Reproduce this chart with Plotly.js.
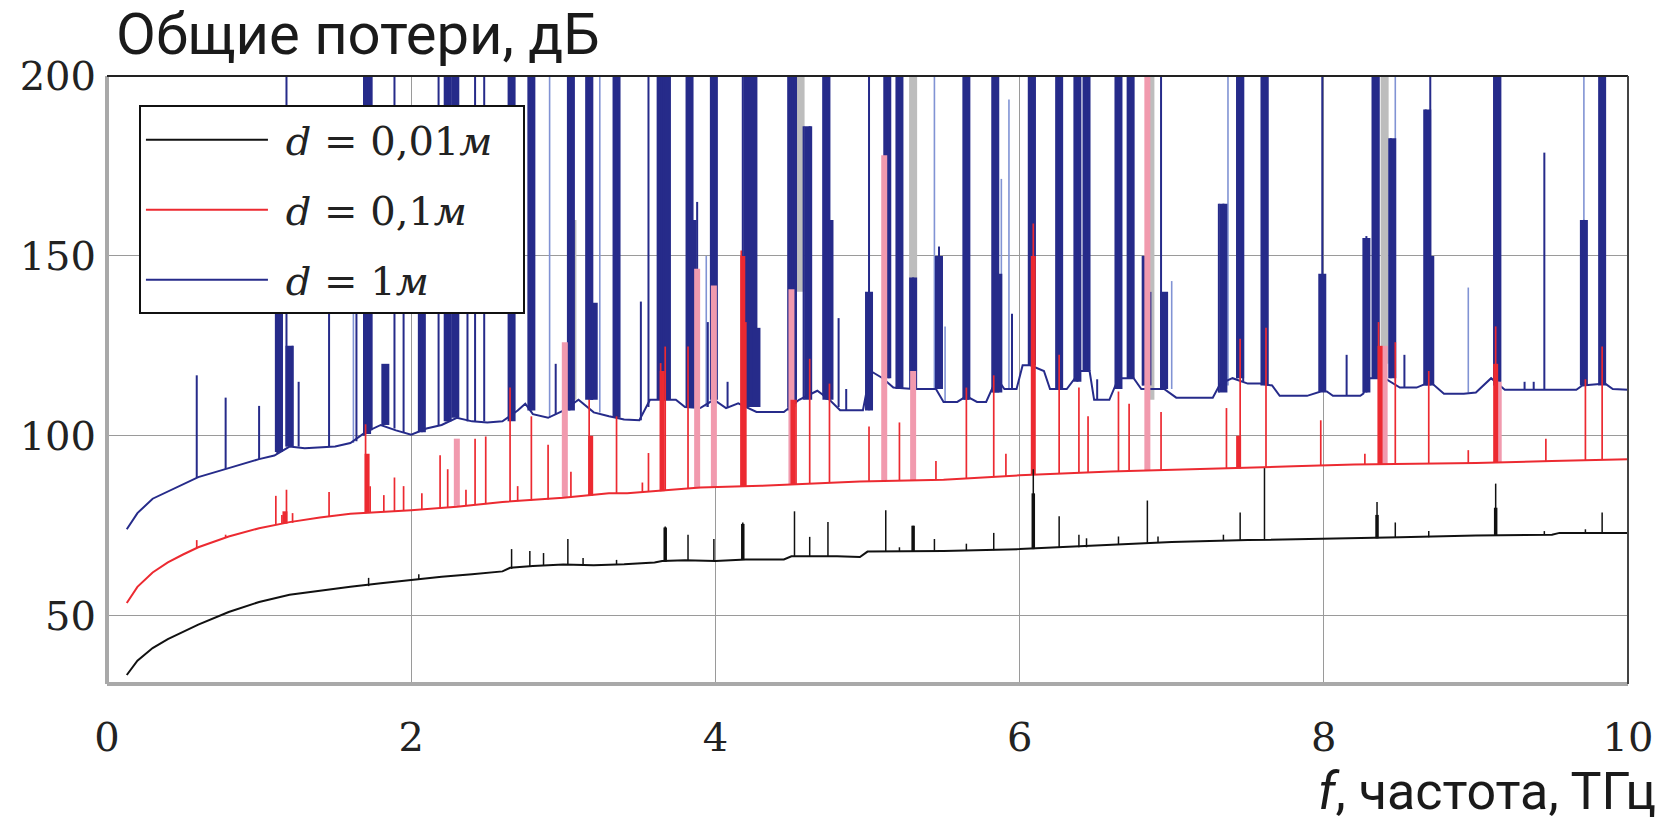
<!DOCTYPE html>
<html><head><meta charset="utf-8">
<script src="https://cdn.plot.ly/plotly-3.0.1.min.js"></script>
<style>html,body{margin:0;padding:0;background:#fff}#chart{width:1676px;height:829px}</style>
</head><body><div id="chart"></div>
<script>
// ---------- DATA ----------
// x: f, THz ; y: total losses, dB
const blackFreq = [0.13,0.2,0.3,0.4,0.5,0.6,0.8,1.0,1.2,1.4,1.6,1.8,2.0,2.2,2.4,2.6,2.65,2.8,3.0,3.2,3.4,3.6,3.65,3.8,4.0,4.2,4.45,4.5,4.8,4.95,5.0,5.5,6.0,6.5,7.0,7.5,8.0,8.5,9.0,9.5,9.55,10.0];
const blackLoss = [33.5,37.5,41,43.5,45.5,47.5,51,53.8,55.8,57,58,59,60,60.8,61.5,62.3,63.3,63.8,64.2,64,64.3,64.8,65.2,65.4,65.2,65.6,65.6,66.5,66.5,66.3,67.8,68,68.5,69.5,70.5,71,71.3,71.8,72.3,72.5,73,73];
// spikes: [f, base, peak]
const blackSpikes = [[1.72,58.2,60.5],[2.05,60.2,61.5],[2.66,63,68.5],[2.78,63.8,68],[2.87,64,67.4],[3.03,64.2,71.3],[3.13,64,66],[3.35,64.2,65.5],[3.67,65,74.8],[3.82,65.4,72.5],[3.99,65.2,71.3],[4.18,65.6,75.9],[4.52,66.5,79],[4.62,66.5,71.9],[4.74,66.5,76],[5.12,67.8,79.3],[5.21,67.8,69],[5.30,67.8,75],[5.44,68,71.3],[5.65,68,70],[5.83,68.2,73],[6.09,68.5,90.7],[6.26,68.8,77.6],[6.39,69,72.5],[6.44,69,71.5],[6.65,69.8,72],[6.84,70.2,82],[6.91,70.2,72],[7.34,70.8,72.5],[7.45,71,78.7],[7.61,71,91],[8.35,71.5,81.6],[8.47,71.6,75.9],[8.69,71.8,73.5],[9.13,72.3,86.7],[9.45,72.5,73.5],[9.72,73,74],[9.83,73,78.7]];
const blackBands = [[3.67,65,74.5],[4.18,65.6,75.5],[5.30,67.8,75],[6.09,68.5,84],[8.35,71.5,78],[9.13,72.3,80]];

const redFreq = [0.13,0.2,0.3,0.4,0.5,0.6,0.8,1.0,1.2,1.4,1.6,1.8,2.0,2.3,2.6,3.0,3.3,3.42,3.6,3.9,4.3,4.6,4.95,5.5,6.0,6.6,7.2,7.8,8.2,8.6,9.0,9.5,10.0];
const redLoss = [53.5,58,62,64.8,67,69,72,74.3,76,77.3,78.3,78.8,79.3,80.3,81.6,82.8,84,84,84.6,85.6,86.1,86.7,87.3,87.8,89,90.1,90.7,91.5,92,92.2,92.4,93,93.5];
const redSpikes = [[0.59,68.8,71],[0.78,71.7,72.5],[1.11,75.3,83.3],[1.15,75.5,78],[1.18,75.7,85],[1.22,75.8,78.5],[1.46,77.5,84.4],[1.70,78.5,103.2],[1.73,78.6,86],[1.82,78.8,83.5],[1.89,79,88.4],[1.95,79.1,86],[2.07,79.5,84],[2.19,79.9,94.6],[2.24,80.1,90.7],[2.36,80.5,85],[2.42,80.8,99.2],[2.49,81,99.8],[2.65,81.7,113.4],[2.70,81.8,86],[2.79,82,105.4],[2.90,82.3,97.5],[3.05,82.8,90],[3.17,83.3,110],[3.35,84,105.4],[3.52,84.3,87],[3.56,84.4,95.2],[3.64,84.6,120.2],[3.67,84.7,124.8],[3.82,85.2,124.8],[4.17,86,151.5],[4.20,86,131.6],[4.53,86.6,110],[4.62,86.8,121.4],[4.75,87,114.5],[5.01,87.4,102.6],[5.21,87.6,103.7],[5.45,87.8,93],[5.65,88,113.4],[5.83,88.5,116.8],[5.91,88.7,95],[6.09,89.1,159],[6.26,89.4,122.5],[6.39,89.7,113.4],[6.45,89.8,105.4],[6.65,90.1,112.3],[6.72,90.2,108.9],[6.93,90.5,106.6],[7.36,90.8,107.7],[7.45,90.9,127],[7.62,91.1,130],[7.98,91.7,104.3],[8.27,92,95],[8.36,92.1,131.6],[8.47,92.2,126],[8.69,92.3,118],[8.95,92.4,96],[9.13,92.5,130.4],[9.46,93,99.2],[9.72,93.2,115.7],[9.83,93.3,124.8]];
const redBands = [[1.17,75.6,79],[1.71,78.5,95],[3.18,83.3,100],[3.65,84.6,118],[4.18,86,150],[4.51,86.6,110],[6.09,89.1,150],[7.44,90.9,100],[8.37,92.1,125],[9.13,92.5,120]];
const pinkBands = [[2.30,80.3,99.2],[3.01,82.7,126],[3.88,85.4,146.4],[3.99,85.7,141.8],[4.50,86.6,140.7],[5.11,87.5,178],[5.30,87.7,118],[6.84,90.4,200],[8.40,92.1,125],[9.15,92.5,115]];

const greyBands = [[3.06,110,160],[4.56,140,200],[5.30,118,200],[6.86,110,200],[8.40,120,200]];

const blueFreq = [0.13,0.2,0.3,0.4,0.5,0.6,0.8,1.0,1.1,1.2,1.3,1.5,1.6,1.7,1.8,1.9,2.0,2.1,2.2,2.3,2.4,2.5,2.6,2.7,2.75,2.8,2.9,3.0,3.1,3.2,3.3,3.4,3.5,3.57,3.65,3.74,3.8,3.9,3.99,4.07,4.15,4.27,4.45,4.55,4.67,4.75,4.82,4.97,5.02,5.1,5.17,5.3,5.45,5.5,5.59,5.65,5.72,5.78,5.85,5.9,5.98,6.02,6.07,6.16,6.2,6.31,6.4,6.46,6.49,6.59,6.65,6.75,6.8,6.95,7.03,7.27,7.32,7.4,7.5,7.58,7.66,7.71,7.89,7.98,8.02,8.06,8.24,8.26,8.3,8.4,8.5,8.61,8.7,8.79,8.92,9.0,9.1,9.19,9.41,9.49,9.66,9.7,9.85,9.9,10.0];
const blueLoss = [74,78.5,82.5,84.5,86.5,88.5,91,93.5,94.5,97,96.5,97,98,101,103,101.5,100.3,102,103,105,104,103.7,104,107,108.9,106,105,107,110,106.5,105.4,104.5,104.3,110,110,110,108,107.7,110,107.7,109,106.6,106.6,110,112.5,110,107.1,107.1,118,116,113.4,113,113,109.4,109.4,111,109.4,109.4,116,113,113,119.6,119.6,118,113,113,118,118,110,110,116,116,113,113,110.6,110.6,114.5,116,114.5,114.5,114,111.1,111.1,112.3,112.3,111.1,111.1,111.7,116,116,113.4,113.4,115,111.7,111.7,112,116,112.8,112.8,112.8,112.8,114,114.5,113,112.8];
const blueSpikes = [[0.59,88.3,116.8],[0.78,90.8,110.6],[1.00,93.5,108.3],[1.12,95,160],[1.15,96,160],[1.18,97,200],[1.22,97,125],[1.26,97,115],[1.46,97,170],[1.64,98.5,170],[1.69,100,200],[1.72,101,200],[1.74,101.5,200],[1.82,103,119.6],[1.89,102,200],[1.95,101,170],[2.07,101,170],[2.18,103,200],[2.23,104,200],[2.25,104,200],[2.37,104,170],[2.42,104,200],[2.48,104,200],[2.65,104,200],[2.67,107,170],[2.79,107,200],[2.95,106,120],[3.04,107,200],[3.06,108,200],[3.17,110,200],[3.19,110,200],[3.35,105,200],[3.51,104.3,137.3],[3.56,108,200],[3.63,110,200],[3.66,110,200],[3.70,110,200],[3.82,108,200],[3.88,108,165],[3.95,108,131.6],[3.98,110,200],[4.00,110,200],[4.08,107.7,115],[4.18,108,200],[4.21,108,200],[4.25,108,200],[4.48,107,200],[4.51,108,200],[4.53,109,200],[4.58,110,186],[4.62,111,186],[4.71,111,200],[4.74,110,200],[4.81,108,132.7],[4.86,107,113],[5.01,107.1,200],[5.12,116,200],[5.14,116,200],[5.21,113.4,200],[5.22,113.4,200],[5.30,113,144],[5.47,113,152.6],[5.64,110,200],[5.66,110,200],[5.83,112,200],[5.95,113,133.9],[6.07,119.6,200],[6.10,119.6,200],[6.26,113,200],[6.38,115,200],[6.44,118,200],[6.45,118,200],[6.51,110,115.7],[6.65,113,200],[6.72,116,200],[6.74,116,200],[6.81,114,150],[6.84,114,200],[6.86,114,140],[6.93,113,200],[7.31,112,164.5],[7.34,113,164.5],[7.43,116,200],[7.45,116,200],[7.47,115,200],[7.61,114.5,200],[7.63,114,200],[7.99,112.3,200],[8.15,111.1,122.5],[8.28,112,155.5],[8.33,116,200],[8.36,116,200],[8.44,116,182.7],[8.53,113.4,122.5],[8.67,114,190.7],[8.70,115,200],[9.12,114,200],[9.14,115,200],[9.16,115,200],[9.32,112.8,115],[9.38,112.8,115],[9.45,112.8,178.7],[9.71,114,160],[9.83,114.5,200]];
const lightBlueSpikes = [[1.62,98,170],[2.30,105,200],[2.91,105,200],[3.24,106.5,200],[3.94,108,150],[5.44,113,200],[5.51,109.4,130.4],[5.88,114,171.4],[5.93,113,193.5],[7.00,113,143],[7.37,114,200],[8.47,115,200],[8.95,112,141.2],[9.71,114,200]];
const blueBands = [[1.13,95.5,160],[1.20,97,125],[1.71,100.5,200],[1.83,103,120],[2.07,101,170],[2.24,104,200],[2.29,105,200],[2.66,104,200],[2.79,107,200],[3.05,107,200],[3.17,110,200],[3.20,110,137],[3.35,105,200],[3.64,110,200],[3.68,110,200],[3.83,108,200],[3.85,108,160],[3.99,110,200],[4.21,108,200],[4.25,108,200],[4.27,108,130],[4.50,108,200],[4.61,110,186],[4.73,110,200],[4.75,110,160],[5.01,107,140],[5.13,116,200],[5.21,113,200],[5.30,113,144],[5.47,113,150],[5.65,110,200],[5.84,112,200],[5.86,112,145],[6.08,119.6,200],[6.26,113,200],[6.38,115,200],[6.44,118,200],[6.65,113,200],[6.73,116,200],[6.83,114,150],[6.95,113,140],[7.34,112,164.5],[7.45,116,200],[7.61,114,200],[7.99,112.3,145],[8.28,112,155],[8.34,116,200],[8.45,116,182.7],[8.68,114,190.7],[8.70,114,150],[9.14,115,200],[9.71,114,160],[9.83,114,200]];

const xTickVals = [0,2,4,6,8,10];
const yTickVals = [50,100,150,200];
const seriesNames = ['&nbsp;<i>d</i> = 0,01<i>м</i>&nbsp;&nbsp;','&nbsp;<i>d</i> = 0,1<i>м</i>','&nbsp;<i>d</i> = 1<i>м</i>'];

// ---------- BUILD ----------
const BLUE='#262B8A', LIGHTBLUE='#8193d4', RED='#EC2A31', PINK='#F19AAE', GREY='#bdbdbd', BLACK='#111111';
function seg(spikes){const x=[],y=[];spikes.forEach(s=>{x.push(s[0],s[0],null);y.push(s[1],s[2],null);});return {x,y};}
function extra(spikes,color,w,grp,rank){const s=seg(spikes);return {x:s.x,y:s.y,type:'scatter',mode:'lines',line:{color:color,width:w},showlegend:false,hoverinfo:'skip',legendgroup:grp,legendrank:rank,connectgaps:false};}
function main(x,y,color,name,grp,rank){return {x:x,y:y,type:'scatter',mode:'lines',line:{color:color,width:2},name:name,legendgroup:grp,legendrank:rank};}

const traces = [
  extra(greyBands,GREY,8,'c',3),
  extra(lightBlueSpikes,LIGHTBLUE,1.6,'c',3), extra(blueBands,BLUE,8,'c',3), extra(blueSpikes,BLUE,2,'c',3), main(blueFreq,blueLoss,BLUE,seriesNames[2],'c',3),
  extra(pinkBands,PINK,6,'b',2), extra(redBands,RED,5,'b',2), extra(redSpikes,RED,1.7,'b',2), main(redFreq,redLoss,RED,seriesNames[1],'b',2),
  extra(blackBands,BLACK,3.5,'a',1), extra(blackSpikes,BLACK,1.5,'a',1), main(blackFreq,blackLoss,BLACK,seriesNames[0],'a',1)
];

const layout = {
  width:1676, height:829,
  margin:{l:107,r:48,t:76,b:145},
  paper_bgcolor:'#fff', plot_bgcolor:'#fff',
  showlegend:true,
  title:{text:'Общие потери, дБ', x:116/1676, xref:'container', xanchor:'left', y:1-34/829, yanchor:'middle',
         font:{family:'Roboto, Noto Sans, sans-serif', size:58, color:'#1a1a1a'}},
  xaxis:{range:[0,10], tickvals:xTickVals, ticktext:xTickVals.map(String), showgrid:true, gridcolor:'#9a9a9a', gridwidth:1.2,
         zeroline:false, showline:false, ticks:'', ticklabelstandoff:26,
         tickfont:{family:'DejaVu Serif, serif', size:40, color:'#222'}},
  yaxis:{range:[31,200], tickvals:yTickVals, ticktext:yTickVals.map(String), showgrid:true, gridcolor:'#9a9a9a', gridwidth:1.2,
         zeroline:false, showline:false, ticks:'', ticklabelstandoff:10,
         tickfont:{family:'DejaVu Serif, serif', size:40, color:'#222'}},
  legend:{x:0.021, y:0.952, xanchor:'left', yanchor:'top', bgcolor:'#fff', bordercolor:'#111', borderwidth:2,
          font:{family:'DejaVu Serif, serif', size:40, color:'#222'}, traceorder:'grouped', tracegroupgap:15, itemwidth:122},
  annotations:[{text:'<i>f</i>, частота, ТГц', xref:'paper', yref:'paper', x:(1658-107)/1521, y:(684-791)/608, xanchor:'right', yanchor:'middle',
                showarrow:false, font:{family:'Roboto, Noto Sans, sans-serif', size:52, color:'#1a1a1a'}}],
  shapes:[
    {type:'line',xref:'paper',yref:'paper',x0:0,x1:0,y0:0,y1:1,line:{color:'#a9a9a9',width:4},layer:'above'},
    {type:'line',xref:'paper',yref:'paper',x0:0,x1:1,y0:0,y1:0,line:{color:'#a9a9a9',width:4},layer:'above'},
    {type:'line',xref:'paper',yref:'paper',x0:0,x1:1,y0:1,y1:1,line:{color:'#222',width:2},layer:'above'},
    {type:'line',xref:'paper',yref:'paper',x0:1,x1:1,y0:0,y1:1,line:{color:'#444',width:2},layer:'above'}
  ]
};
Plotly.newPlot('chart', traces, layout, {displayModeBar:false, staticPlot:true});
</script></body></html>
